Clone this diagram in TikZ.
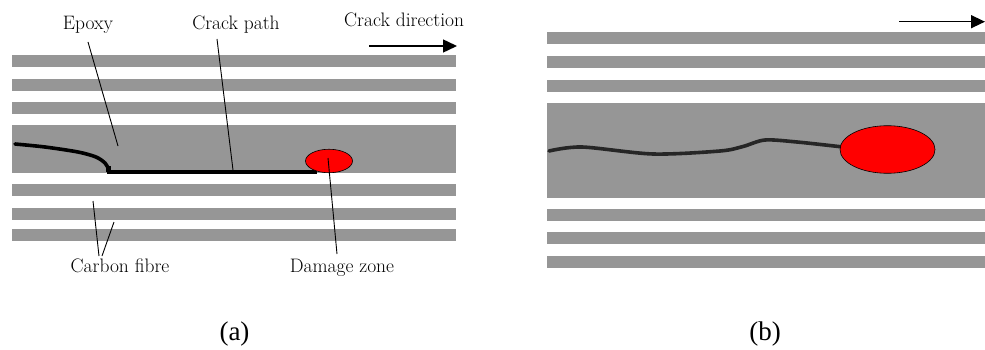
\documentclass[tikz,border=0pt]{standalone}
\usepackage{fontspec}
\newfontfamily\timesfont{Liberation Serif}
\usetikzlibrary{arrows.meta,shapes.geometric}
\definecolor{fibregrey}{RGB}{150,150,150}
\tikzset{
  bar/.style={fill=fibregrey, draw=none},
  lbl/.style={font=\fontsize{19.5}{22}\selectfont, inner sep=0pt, anchor=base},
  sublabel/.style={font=\timesfont\fontsize{27}{30}\selectfont, inner sep=0pt, anchor=base},
  leader/.style={line width=0.9pt},
  crackline/.style={line width=3.6pt, line cap=round, line join=round},
  dirarrow/.style={line width=1.4pt, -{Triangle[length=14pt,width=13pt]}},
  damage/.style={fill=red, draw=black, line width=0.6pt},
}
\begin{document}
\begin{tikzpicture}[x=1pt,y=-1pt]
\useasboundingbox (0,0) rectangle (985,350);
% ---------- panel (a) ----------
\foreach \y/\h in {55/11.7, 79/11.7, 102/11.7, 125/47.7, 184/11.7, 208/11.7, 229/11.7}
  \fill[bar] (12,\y) rectangle (456,\y+\h);
\coordinate (a1) at (369,46);
\coordinate (a2) at (457,46);
\draw[dirarrow] (a1) -- (a2);
% crack (a)
\draw[crackline] plot[smooth, tension=0.5] coordinates {(15,144) (45,147) (78,152) (96,157) (105,163) (108,168)};
\draw[crackline, line cap=butt] (107,172) -- (317,172);
\fill (106,166) rectangle (111,172);
% damage zone (a)
\node[damage, ellipse, minimum width=47pt, minimum height=23.5pt, inner sep=0pt] (dza) at (329,161) {};
% labels (a)
\node[lbl] (epoxy) at (88,30) {Epoxy};
\node[lbl] (crackpath) at (236,30) {Crack path};
\node[lbl, anchor=base west] (crackdir) at (344,27) {Crack direction};
\node[lbl] (carbon) at (120,272) {Carbon fibre};
\node[lbl] (damagez) at (342,272) {Damage zone};
\coordinate (epA) at (88,42);  \coordinate (epB) at (118,146);
\coordinate (cpA) at (217,39); \coordinate (cpB) at (233,170);
\coordinate (dzA) at (328,158); \coordinate (dzB) at (337,254);
\coordinate (cfA) at (99,256); \coordinate (cfB) at (93,201);
\coordinate (cfC) at (102,256); \coordinate (cfD) at (114,222);
\draw[leader] (epA) -- (epB);
\draw[leader] (cpA) -- (cpB);
\draw[leader] (dzA) -- (dzB);
\draw[leader] (cfA) -- (cfB);
\draw[leader] (cfC) -- (cfD);
\node[sublabel] (capa) at (234.5,340) {(a)};
% ---------- panel (b) ----------
\foreach \y/\h in {32/11.7, 56/11.7, 80/11.7, 103/94.7, 209/11.7, 232/11.7, 256/11.7}
  \fill[bar] (547,\y) rectangle (985,\y+\h);
\coordinate (b1) at (899,21.7);
\coordinate (b2) at (985,21.7);
\draw[dirarrow] (b1) -- (b2);
\draw[crackline, draw=black!85] plot[smooth, tension=0.5] coordinates {(549,151) (582,147) (653,154) (720,151) (743,146.5) (765,140) (797,142) (843,147)};
\node[damage, ellipse, minimum width=95pt, minimum height=47.6pt, inner sep=0pt] (dzb) at (887.5,149.5) {};
\node[sublabel] (capb) at (765,340) {(b)};
\end{tikzpicture}
\end{document}
